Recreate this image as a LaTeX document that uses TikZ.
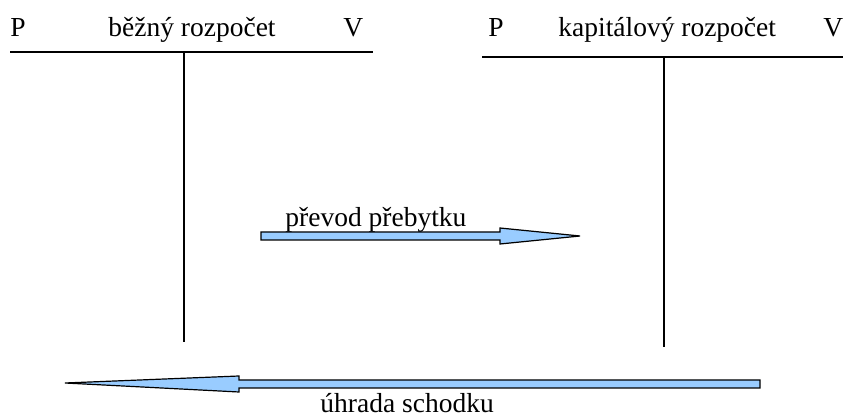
\documentclass[tikz,border=0pt]{standalone}
\usepackage{fontspec}
\setmainfont{Liberation Serif}
\usetikzlibrary{positioning}
\definecolor{arrowblue}{RGB}{153,204,255}

\begin{document}
\begin{tikzpicture}[
    x=0.5pt, y=-0.5pt,
    label/.style={inner sep=0pt, anchor=base west, font=\fontsize{13.75}{16}\selectfont},
    tline/.style={line width=0.8pt},
    blockarrow/.style={draw, line width=0.6pt, fill=arrowblue, line join=miter}
]
\useasboundingbox (0,0) rectangle (843,417);

% Current budget
\node[label] (p1) at (10,37) {P};
\node[label] (bezny) at (108,37) {běžný rozpočet};
\node[label] (v1) at (343,37) {V};
\coordinate (bl) at (10,52);
\coordinate (br) at (373,52);
\coordinate (btop) at (184,52);
\coordinate (bbot) at (184,342);
\draw[tline] (bl) -- (br);
\draw[tline] (btop) -- (bbot);

% Capital budget
\node[label] (p2) at (488,37) {P};
\node[label] (kapital) at (558,37) {kapitálový rozpočet};
\node[label] (v2) at (823,37) {V};
\coordinate (kl) at (482,57);
\coordinate (kr) at (843,57);
\coordinate (ktop) at (664,57);
\coordinate (kbot) at (664,347);
\draw[tline] (kl) -- (kr);
\draw[tline] (ktop) -- (kbot);

% Transfer of surplus
\node[label] (prevod) at (285,227) {převod přebytku};
\draw[blockarrow] (261,232) -- (500,232) -- (500,228) -- (580,236)
    -- (500,244) -- (500,240) -- (261,240) -- cycle;

% Covering the deficit
\node[label] (uhrada) at (320,413) {úhrada schodku};
\draw[blockarrow] (65,383) -- (239,376) -- (239,380) -- (760,380)
    -- (760,388) -- (239,388) -- (239,392) -- cycle;

\end{tikzpicture}
\end{document}
